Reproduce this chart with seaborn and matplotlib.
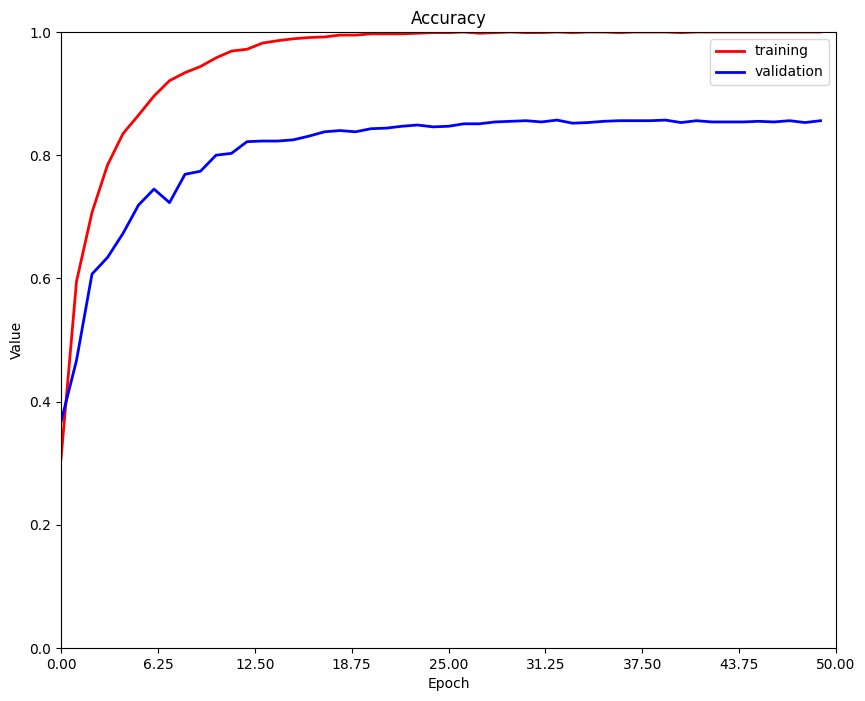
import matplotlib
matplotlib.use("Agg")
import matplotlib.pyplot as plt
import seaborn as sns
import numpy as np
import pandas as pd

epochs = list(range(50))
training = [0.307, 0.595, 0.707, 0.784, 0.835, 0.865, 0.896, 0.921, 0.934, 0.944,
            0.958, 0.969, 0.972, 0.982, 0.986, 0.989, 0.991, 0.992, 0.995, 0.995,
            0.997, 0.997, 0.997, 0.998, 0.999, 0.999, 1.000, 0.998, 0.999, 1.000,
            0.999, 0.999, 1.000, 0.999, 1.000, 1.000, 0.999, 1.000, 1.000, 1.000,
            0.999, 1.000, 1.000, 1.000, 1.000, 1.000, 1.000, 1.000, 1.000, 1.000]
validation = [0.367, 0.467, 0.607, 0.634, 0.673, 0.719, 0.745, 0.723, 0.769, 0.774,
              0.800, 0.803, 0.822, 0.823, 0.823, 0.825, 0.831, 0.838, 0.840, 0.838,
              0.843, 0.844, 0.847, 0.849, 0.846, 0.847, 0.851, 0.851, 0.854, 0.855,
              0.856, 0.854, 0.857, 0.852, 0.853, 0.855, 0.856, 0.856, 0.856, 0.857,
              0.853, 0.856, 0.854, 0.854, 0.854, 0.855, 0.854, 0.856, 0.853, 0.856]
x_ticks = [0, 6.25, 12.5, 18.75, 25, 31.25, 37.5, 43.75, 50]
y_ticks = [0.0, 0.2, 0.4, 0.6, 0.8, 1.0]

df = pd.DataFrame({
    "Epoch": epochs * 2,
    "Value": training + validation,
    "series": ["training"] * 50 + ["validation"] * 50,
})

fig = plt.figure(figsize=(8.65, 7.01), dpi=100)
ax = fig.add_axes([61 / 865, 1 - 648 / 701, (836 - 61) / 865, (648 - 32) / 701])
sns.lineplot(data=df, x="Epoch", y="Value", hue="series",
             palette={"training": "red", "validation": "blue"},
             linewidth=2, ax=ax)
ax.set_xlim(0, 50)
ax.set_ylim(0, 1)
ax.set_xticks(x_ticks)
ax.set_xticklabels([f"{t:.2f}" for t in x_ticks])
ax.set_yticks(y_ticks)
ax.set_title("Accuracy")
ax.set_xlabel("Epoch")
ax.set_ylabel("Value")
ax.legend(loc="upper right")
fig.savefig("out.png", dpi=100)
